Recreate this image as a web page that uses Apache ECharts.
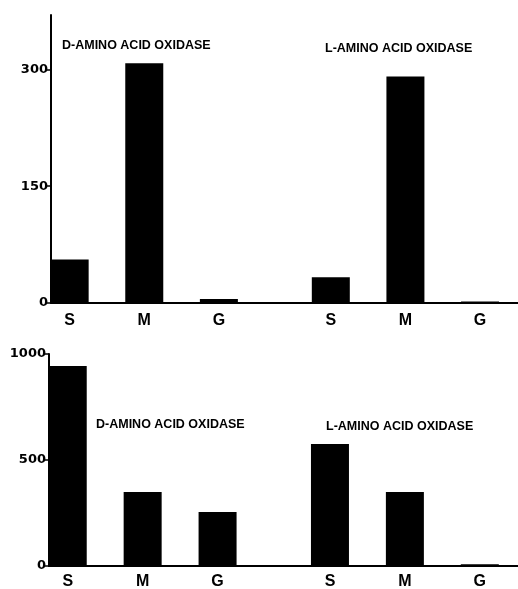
<!DOCTYPE html>
<html>
<head>
<meta charset="utf-8">
<script src="https://cdn.jsdelivr.net/npm/echarts@6/dist/echarts.min.js"></script>
<style>
html, body { margin: 0; padding: 0; background: #fff; }
#chart { width: 518px; height: 589px; }
</style>
</head>
<body>
<div id="chart"></div>
<script>
const fractions = ['S', 'M', 'G'];
const topD = [56, 308, 5];
const topL = [33, 291, 2];
const bottomD = [943, 349, 255];
const bottomL = [575, 349, 8];
const topTicks = [0, 150, 300];
const bottomTicks = [0, 500, 1000];
const enzymes = ['D-AMINO ACID OXIDASE', 'L-AMINO ACID OXIDASE'];

// 13 half-width slots: D bars at 0,2,4, a wider gap, then L bars at 7,9,11
const dSlots = [0, 2, 4];
const lSlots = [7, 9, 11];
const slotCount = 13;

let slotLabels = new Array(slotCount).fill('');
dSlots.forEach((s, i) => slotLabels[s] = fractions[i]);
lSlots.forEach((s, i) => slotLabels[s] = fractions[i]);

const toSlots = (d, l) => {
  let arr = new Array(slotCount).fill('-');
  dSlots.forEach((s, i) => arr[s] = d[i]);
  lSlots.forEach((s, i) => arr[s] = l[i]);
  return arr;
}

const font = 'Liberation Sans, Arial, sans-serif';

const xAx = (gridIndex, margin) => ({
  type: 'category',
  gridIndex: gridIndex,
  data: slotLabels,
  axisLine: { lineStyle: { color: '#000', width: 2 } },
  axisTick: { show: false },
  axisLabel: { interval: 0, color: '#000', fontSize: 16, fontWeight: 'bold', fontFamily: font, margin: margin }
})

const yAx = (gridIndex, max, ticks) => ({
  type: 'value',
  gridIndex: gridIndex,
  min: 0,
  max: max,
  splitLine: { show: false },
  axisLine: { show: true, lineStyle: { color: '#000', width: 2 } },
  axisTick: { show: true, length: 6, customValues: ticks, lineStyle: { color: '#000', width: 1.5 } },
  axisLabel: {
    customValues: ticks,
    formatter: v => String(v),
    color: '#000', fontSize: 13, fontWeight: 'bold', fontFamily: 'DejaVu Sans, sans-serif', margin: 3
  }
})

const title = (text, left, top) => ({
  type: 'text',
  left: left,
  top: top,
  style: { text: text, fill: '#000', font: 'bold 12.5px ' + font }
})

let myChart = echarts.init(document.getElementById('chart'));
let option = {
  backgroundColor: '#fff',
  animation: false,
  grid: [
    { left: 51, width: 485, top: 15, height: 288, outerBoundsMode: 'none' },
    { left: 49, width: 487, top: 354, height: 212, outerBoundsMode: 'none' }
  ],
  xAxis: [xAx(0, 10), xAx(1, 8)],
  yAxis: [yAx(0, 370, topTicks), yAx(1, 1000, bottomTicks)],
  series: [
    {
      type: 'bar',
      xAxisIndex: 0,
      yAxisIndex: 0,
      data: toSlots(topD, topL),
      barWidth: 38,
      itemStyle: { color: '#000' }
    },
    {
      type: 'bar',
      xAxisIndex: 1,
      yAxisIndex: 1,
      data: toSlots(bottomD, bottomL),
      barWidth: 38,
      itemStyle: { color: '#000' }
    }
  ],
  graphic: [
    title(enzymes[0], 62, 39),
    title(enzymes[1], 325, 42),
    title(enzymes[0], 96, 418),
    title(enzymes[1], 326, 420)
  ]
}
myChart.setOption(option)
</script>
</body>
</html>
